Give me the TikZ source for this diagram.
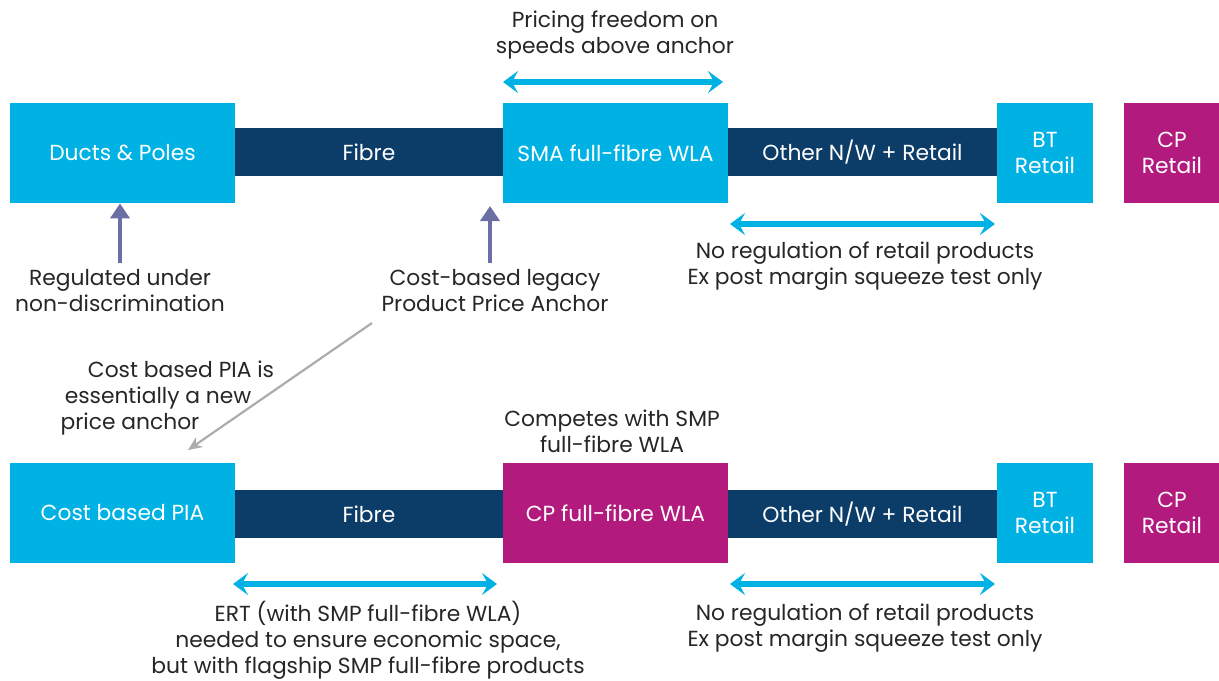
\documentclass[tikz,border=0pt]{standalone}
\usepackage{fontspec}
\setmainfont{Poppins}
\usepackage{tikz}
\usetikzlibrary{arrows.meta,positioning,calc}
\usepackage{xcolor}
\definecolor{boxcyan}{RGB}{0,178,228}
\definecolor{barnavy}{RGB}{12,60,104}
\definecolor{cpmagenta}{RGB}{178,26,126}
\definecolor{upviolet}{RGB}{108,110,166}
\definecolor{txtgray}{RGB}{38,38,38}

\tikzset{
  bigbox/.style={fill=boxcyan, text=white, minimum width=112.5pt, minimum height=50pt, inner sep=0pt},
  barbox/.style={fill=barnavy, text=white, minimum width=134.5pt, minimum height=24pt, inner sep=0pt},
  smallbox/.style={fill=boxcyan, text=white, minimum width=48pt, minimum height=50pt, inner sep=0pt, align=center},
  note/.style={text=txtgray, align=center},
  span/.style={{Stealth[length=7.5pt,width=11pt,inset=3pt]}-{Stealth[length=7.5pt,width=11pt,inset=3pt]}, boxcyan, line width=2.6pt},
  upwards/.style={-{Triangle[length=7.5pt,width=9.5pt]}, upviolet, line width=2.4pt},
}

\begin{document}
\begin{tikzpicture}[x=0.5pt,y=-0.5pt,font=\fontsize{10.9pt}{13pt}\selectfont]
  \useasboundingbox (0,0) rectangle (1219,680);

  % top chain
  \node[bigbox] (ducts) at (122.5,153) {Ducts \& Poles};
  \node[barbox] (fibreA) at (369,152) {Fibre};
  \node[bigbox] (sma) at (615.5,153) {SMA full-fibre WLA};
  \node[barbox] (otherA) at (862.5,152) {Other N/W + Retail};
  \node[smallbox] (btA) at (1045,153) {BT\\Retail};
  \node[smallbox, fill=cpmagenta] (cpA) at (1172,153) {CP\\Retail};

  % bottom chain
  \node[bigbox] (pia) at (122.5,513) {Cost based PIA};
  \node[barbox] (fibreB) at (369,514) {Fibre};
  \node[bigbox, fill=cpmagenta] (cpwla) at (615.5,513) {CP full-fibre WLA};
  \node[barbox] (otherB) at (862.5,514) {Other N/W + Retail};
  \node[smallbox] (btB) at (1045,513) {BT\\Retail};
  \node[smallbox, fill=cpmagenta] (cpB) at (1172,513) {CP\\Retail};

  % labels
  \node[note] (pricing) at (615,35) {Pricing freedom on\\speeds above anchor};
  \node[note] (regulated) at (120,291) {Regulated under\\non-discrimination};
  \node[note] (anchor) at (495,291) {Cost-based legacy\\Product Price Anchor};
  \node[note] (noregA) at (865,266) {No regulation of retail products\\Ex post margin squeeze test only};
  \node[note] (newanchor) at (158,398) {\hspace*{23pt}Cost based PIA is\\essentially a new\hspace*{20pt}\\price anchor\hspace*{28pt}};
  \node[note] (competes) at (612,431) {Competes with SMP\\full-fibre WLA};
  \node[note] (ert) at (368,640) {ERT (with SMP full-fibre WLA)\\needed to ensure economic space,\\but with flagship SMP full-fibre products};
  \node[note] (noregB) at (865,628) {No regulation of retail products\\Ex post margin squeeze test only};

  % arrows
  \coordinate (p1) at (503,82);  \coordinate (p2) at (723,82);
  \coordinate (r1) at (730,224); \coordinate (r2) at (995,224);
  \coordinate (e1) at (233,584); \coordinate (e2) at (497,584);
  \coordinate (r3) at (730,584); \coordinate (r4) at (995,584);
  \draw[span] (p1) -- (p2);
  \draw[span] (r1) -- (r2);
  \draw[span] (e1) -- (e2);
  \draw[span] (r3) -- (r4);

  \draw[upwards] (regulated.north) -- (regulated.north |- ducts.south);
  \coordinate (hit) at (490,206);
  \draw[upwards] (anchor.north -| hit) -- (hit);

  \coordinate (tail) at (372,323);
  \coordinate (tip) at (188,450);
  \draw[-{Stealth[length=7pt,width=6pt]}, gray!65, line width=1.1pt] (tail) -- (tip);
\end{tikzpicture}
\end{document}
